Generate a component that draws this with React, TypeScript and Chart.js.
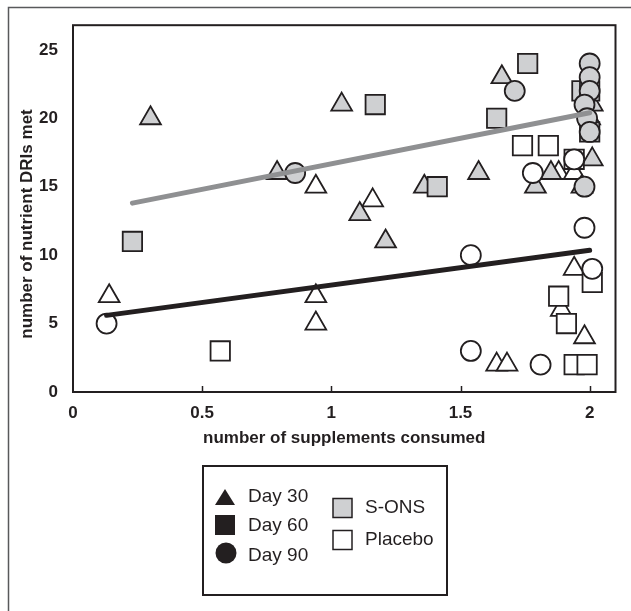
import React, { useEffect, useRef } from 'react';
import { Chart, registerables } from 'chart.js';
Chart.register(...registerables);

const xTicks = [0, 0.5, 1, 1.5, 2];
const xTickLabels = ['0', '0.5', '1', '1.5', '2'];
const yTicks = [0, 5, 10, 15, 20, 25];
const yTickLabels = ['0', '5', '10', '15', '20', '25'];
const xTitle = 'number of supplements consumed';
const yTitle = 'number of nutrient DRIs met';
const legendDays = ['Day 30', 'Day 60', 'Day 90'];
const legendGroups = ['S-ONS', 'Placebo'];

// [x, y] pairs
const day30Sons = [[0.3, 20], [1.04, 21], [0.79, 16], [1.36, 15], [1.11, 13], [1.21, 11], [1.66, 23], [1.57, 16], [1.79, 15], [1.85, 16], [2.01, 17], [2.01, 21]];
const day30Placebo = [[0.14, 7], [0.94, 15], [1.16, 14], [0.94, 7], [0.94, 5], [1.88, 16], [1.94, 16], [1.97, 15], [2.0, 20], [1.94, 9], [1.89, 6], [1.98, 4], [1.64, 2], [1.68, 2]];
const day60Sons = [[0.23, 11], [1.17, 21], [1.41, 15], [1.76, 24], [1.64, 20], [1.97, 22], [2.0, 22], [2.0, 19]];
const day60Placebo = [[0.57, 3], [1.74, 18], [1.84, 18], [1.94, 17], [2.01, 8], [1.88, 7], [1.91, 5], [1.94, 2], [1.99, 2]];
const day90Sons = [[0.86, 16], [1.71, 22], [2.0, 24], [2.0, 23], [2.0, 22], [1.98, 21], [1.99, 20], [2.0, 19], [1.98, 15]];
const day90Placebo = [[0.13, 5], [1.54, 10], [1.54, 3], [1.81, 2], [1.78, 16], [1.98, 12], [2.01, 9], [1.94, 17]];
const sonsTrend = [[0.23, 13.8], [2.0, 20.4]];
const placeboTrend = [[0.13, 5.6], [2.0, 10.35]];

const INK = '#231f20';
const GRAY = '#cfd0d2';
const LINE_GRAY = '#8f9092';
const FONT = "'Liberation Sans', Arial, sans-serif";

const toPts = (arr: number[][]) => arr.map(([x, y]) => ({ x, y }));

const decoPlugin = {
  id: 'deco',
  afterDraw(chart: any) {
    const { ctx, chartArea: a, scales } = chart;
    const xs = scales.x;
    ctx.save();
    // outer frame
    ctx.strokeStyle = '#58595b';
    ctx.lineWidth = 1.5;
    ctx.beginPath();
    ctx.moveTo(8.5, 700);
    ctx.lineTo(8.5, 7.5);
    ctx.lineTo(700, 7.5);
    ctx.stroke();
    // plot frame
    ctx.strokeStyle = INK;
    ctx.lineWidth = 2;
    ctx.strokeRect(a.left, a.top, a.right - a.left, a.bottom - a.top);
    // inward x ticks
    ctx.lineWidth = 1.5;
    xTicks.forEach((v) => {
      if (v === 0) return;
      const px = Math.round(xs.getPixelForValue(v)) + 0.5;
      ctx.beginPath();
      ctx.moveTo(px, a.bottom);
      ctx.lineTo(px, a.bottom - 6);
      ctx.stroke();
    });
    // axis titles
    ctx.fillStyle = INK;
    ctx.font = `bold 17px ${FONT}`;
    ctx.textAlign = 'center';
    ctx.textBaseline = 'middle';
    ctx.fillText(xTitle, (a.left + a.right) / 2, 438);
    ctx.save();
    ctx.translate(27, 224);
    ctx.rotate(-Math.PI / 2);
    ctx.fillText(yTitle, 0, 0);
    ctx.restore();
    // legend box
    ctx.lineWidth = 2;
    ctx.strokeStyle = INK;
    ctx.strokeRect(203, 466, 244, 129);
    ctx.fillStyle = INK;
    ctx.beginPath();
    ctx.moveTo(225, 489);
    ctx.lineTo(235, 505);
    ctx.lineTo(215, 505);
    ctx.closePath();
    ctx.fill();
    ctx.fillRect(215, 515, 20, 20);
    ctx.beginPath();
    ctx.arc(226, 553, 10.5, 0, Math.PI * 2);
    ctx.fill();
    ctx.font = `19px ${FONT}`;
    ctx.textAlign = 'left';
    ctx.textBaseline = 'middle';
    const dayY = [497, 526, 556];
    legendDays.forEach((t, i) => ctx.fillText(t, 248, dayY[i]));
    const grpY = [508, 540];
    const grpFill = [GRAY, '#ffffff'];
    legendGroups.forEach((t, i) => {
      ctx.fillStyle = grpFill[i];
      ctx.fillRect(333, grpY[i] - 9.5, 19, 19);
      ctx.lineWidth = 1.5;
      ctx.strokeStyle = INK;
      ctx.strokeRect(333, grpY[i] - 9.5, 19, 19);
      ctx.fillStyle = INK;
      ctx.fillText(t, 365, grpY[i]);
    });
    ctx.restore();
  },
};

export default function App() {
  const ref = useRef<HTMLCanvasElement | null>(null);
  useEffect(() => {
    if (!ref.current) return;
    const marker = (data: number[][], style: string, fill: string, r: number) => ({
      type: 'scatter' as const,
      data: toPts(data),
      pointStyle: style,
      pointRadius: r,
      pointBackgroundColor: fill,
      pointBorderColor: INK,
      pointBorderWidth: 1.8,
      showLine: false,
    });
    const trend = (data: number[][], color: string) => ({
      type: 'line' as const,
      data: toPts(data),
      borderColor: color,
      borderWidth: 5,
      pointRadius: 0,
      showLine: true,
      fill: false,
      borderCapStyle: 'round' as const,
    });
    const tickFont = { family: FONT, size: 17, weight: 'bold' as const };
    const chart = new Chart(ref.current, {
      type: 'scatter',
      data: {
        datasets: [
          trend(sonsTrend, LINE_GRAY),
          trend(placeboTrend, INK),
          marker(day90Sons, 'circle', GRAY, 10),
          marker(day90Placebo, 'circle', '#ffffff', 10),
          marker(day60Sons, 'rect', GRAY, 13.7),
          marker(day60Placebo, 'rect', '#ffffff', 13.7),
          marker(day30Sons, 'triangle', GRAY, 12),
          marker(day30Placebo, 'triangle', '#ffffff', 12),
        ] as any,
      },
      options: {
        responsive: false,
        animation: false,
        devicePixelRatio: 1,
        layout: { padding: { left: 28, top: 24, right: 9, bottom: 179 } },
        plugins: { legend: { display: false }, tooltip: { enabled: false } },
        scales: {
          x: {
            type: 'linear',
            min: 0,
            max: 2.1,
            grid: { display: false, drawTicks: false },
            border: { display: false },
            afterBuildTicks: (s: any) => {
              s.ticks = xTicks.map((v) => ({ value: v }));
            },
            afterFit: (s: any) => {
              s.height = 40;
            },
            ticks: {
              font: tickFont,
              color: INK,
              padding: 11,
              maxRotation: 0,
              autoSkip: false,
              callback: (_v: any, i: number) => xTickLabels[i],
            },
          },
          y: {
            type: 'linear',
            min: 0,
            max: 26.8,
            grid: { display: false, drawTicks: false },
            border: { display: false },
            afterBuildTicks: (s: any) => {
              s.ticks = yTicks.map((v) => ({ value: v }));
            },
            afterFit: (s: any) => {
              s.width = 45;
            },
            ticks: {
              font: tickFont,
              color: INK,
              padding: 15,
              autoSkip: false,
              callback: (_v: any, i: number) => yTickLabels[i],
            },
          },
        },
      },
      plugins: [decoPlugin],
    });
    return () => chart.destroy();
  }, []);
  return (
    <div style={{ position: 'absolute', left: 0, top: 0, width: 631, height: 611 }}>
      <canvas ref={ref} width={631} height={611} style={{ display: 'block' }} />
    </div>
  );
}
